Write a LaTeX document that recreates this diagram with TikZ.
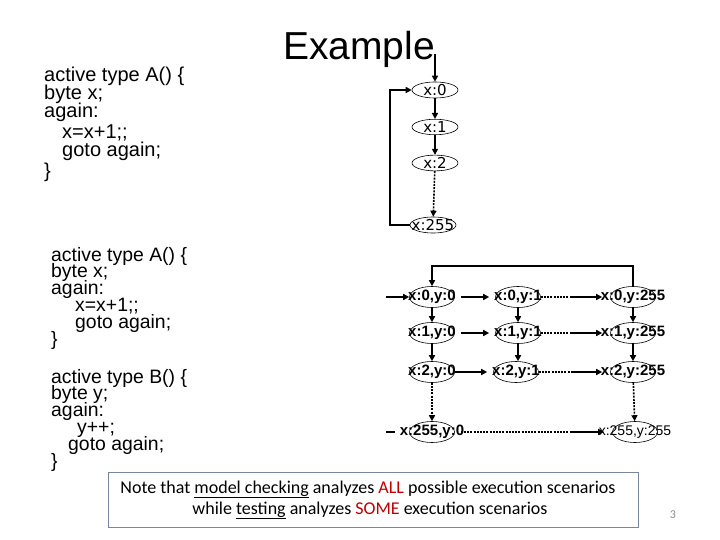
\documentclass[tikz,border=0pt]{standalone}
\usepackage{fontspec}
\setmainfont{Liberation Sans}
\newfontfamily\notefont{Carlito}
\newfontfamily\labfont{DejaVu Sans}
\usetikzlibrary{shapes.geometric,arrows.meta}
\definecolor{notered}{RGB}{192,0,0}
\definecolor{boxline}{RGB}{120,135,155}
\definecolor{pagegray}{RGB}{140,140,140}
\newcommand\tightlines{\lineskiplimit=-50pt\relax\lineskip=0pt\relax}
\begin{document}
\begin{tikzpicture}[x=1pt,y=-1pt,
  st/.style={ellipse,draw,line width=0.6pt,minimum width=45pt,minimum height=21pt,inner sep=0pt,font=\fontsize{15}{15}\selectfont\bfseries},
  stn/.style={st,font=\fontsize{14}{14}\selectfont},
  tst/.style={ellipse,draw,line width=0.6pt,minimum width=46pt,minimum height=15pt,inner sep=0pt,font=\labfont\fontsize{15}{15}\selectfont},
  arr/.style={line width=1.6pt,-{Triangle[length=6pt,width=6pt]}},
  dots/.style={line width=1.6pt,dash pattern=on 2pt off 1.2pt},
  darr/.style={dots,-{Triangle[length=6pt,width=6pt]}},
  codeA/.style={anchor=base west,inner sep=0pt,align=left,font=\fontsize{20}{18}\selectfont\tightlines},
  codeB/.style={anchor=base west,inner sep=0pt,align=left,font=\fontsize{19.4}{16.8}\selectfont\tightlines}
]
\useasboundingbox (0,0) rectangle (720,540);

% title
\node[anchor=base west,inner sep=0pt,font=\fontsize{39}{39}\selectfont] (title) at (283,60) {Example};

% code block 1 (anchor = baseline of last line)
\node[codeA] (codeone) at (44,178) {active type A() \{\\
byte x;\\
again:\\[3pt]
\hspace*{18pt}x=x+1;;\\
\hspace*{18pt}goto again;\\[3pt]
\}};

% code block 2 (anchor = baseline of last line)
\node[codeB] (codetwo) at (51,467) {active type A() \{\\
byte x;\\
again:\\
\hspace*{24pt}x=x+1;;\\
\hspace*{24pt}goto again;\\
\}\\[21.2pt]
active type B() \{\\
byte y;\\
again:\\
\hspace*{26pt}y++;\\
\hspace*{17pt}goto again;\\
\}};

% top chain
\node[tst] (t0) at (435,90) {\makebox[0pt]{x:0}};
\node[tst] (t1) at (435,127) {\makebox[0pt]{x:1}};
\node[tst] (t2) at (435,163) {\makebox[0pt]{x:2}};
\node[tst] (t255) at (433,225) {\makebox[0pt]{x:255}};
\coordinate (tin) at (435,54);
\draw[arr] (tin) -- (t0.north);
\draw[arr] (t0) -- (t1);
\draw[arr] (t1) -- (t2);
\draw[darr] (t2) -- (t255);
\draw[arr] (t255.west) -- ++(-20,0) |- (t0.west);

% grid
\node[st] (g00) at (432,297) {\makebox[0pt]{x:0,y:0}};
\node[st] (g01) at (518,297) {\makebox[0pt]{x:0,y:1}};
\node[st] (g0z) at (633,297) {\makebox[0pt]{x:0,y:255}};
\node[st] (g10) at (432,333) {\makebox[0pt]{x:1,y:0}};
\node[st] (g11) at (518,333) {\makebox[0pt]{x:1,y:1}};
\node[st] (g1z) at (633,333) {\makebox[0pt]{x:1,y:255}};
\node[st] (g20) at (432,372) {\makebox[0pt]{x:2,y:0}};
\node[st] (g21) at (516,372) {\makebox[0pt]{x:2,y:1}};
\node[st] (g2z) at (633,372) {\makebox[0pt]{x:2,y:255}};
\node[st] (gz0) at (432,432) {\makebox[0pt]{x:255,y:0}};
\node[stn] (gzz) at (635,432) {\makebox[0pt]{x:255,y:255}};

% entries
\coordinate (gin) at (386,297);
\draw[arr] (gin) -- (g00.west);
\coordinate (gin2) at (386,432);
\draw[line width=1.6pt,shorten >=14pt] (gin2) -- (gz0.west);
\draw[arr] (g0z.north) -- ++(0,-20) -| (g00.north);

% horizontal
\draw[arr,shorten <=6pt,shorten >=6pt] (g00) -- (g01);
\draw[arr,shorten <=6pt,shorten >=6pt] (g10) -- (g11);
\draw[arr,shorten >=6pt] (g20) -- (g21);
\coordinate (h0) at (572,297);
\coordinate (h1) at (572,333);
\coordinate (h2) at (572,372);
\coordinate (h3) at (570,432);
\draw[dots] (g01.east) -- (h0);
\draw[arr,shorten >=8pt] (h0) -- (g0z.west);
\draw[dots] (g11.east) -- (h1);
\draw[arr,shorten >=8pt] (h1) -- (g1z.west);
\draw[dots] (g21.east) -- (h2);
\draw[arr,shorten >=8pt] (h2) -- (g2z.west);
\draw[dots,shorten <=6pt] (gz0.east) -- (h3);
\draw[arr,shorten >=8pt] (h3) -- (gzz.west);

% vertical
\draw[arr] (g00) -- (g10);
\draw[arr] (g10) -- (g20);
\draw[darr] (g20) -- (gz0);
\draw[arr] (g01) -- (g11);
\draw[arr] (g11) -- (g21.north -| g11);
\draw[arr] (g0z) -- (g1z);
\draw[arr] (g1z) -- (g2z);
\draw[darr] (g2z) -- (gzz);

% note
\node[draw=boxline,line width=0.8pt,minimum width=530pt,minimum height=55pt,inner sep=0pt,align=center,font=\notefont\fontsize{18}{21}\selectfont] (note) at (373,500) {\hspace*{-10pt}Note that \underline{model checking} analyzes \textcolor{notered}{ALL} possible execution scenarios\\ \hspace*{-6pt}while \underline{testing} analyzes \textcolor{notered}{SOME} execution scenarios};
\node[inner sep=0pt,font=\notefont\fontsize{12}{12}\selectfont,text=pagegray] (pg) at (673,515) {3};
\end{tikzpicture}
\end{document}
